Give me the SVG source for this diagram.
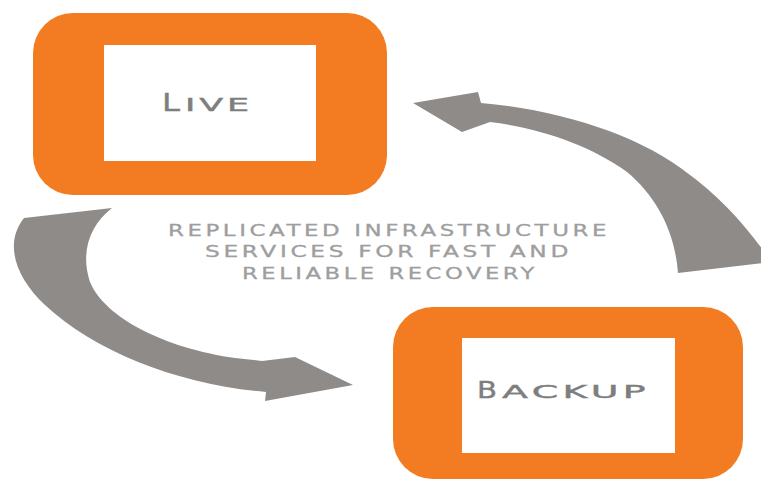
<svg xmlns="http://www.w3.org/2000/svg" width="761" height="481" viewBox="0 0 761 481">
<style>
.frame{fill:#F37B21}
.inner{fill:#FFFFFF}
.arrow{fill:#8F8B89}
.lbl{font-family:"DejaVu Sans",sans-serif;fill:#7E7E7E;stroke:#7E7E7E;stroke-width:0.4}
.sub{font-family:"DejaVu Sans",sans-serif;fill:#9E9E9E;stroke:#9E9E9E;stroke-width:0.3;font-size:16px;letter-spacing:2.5px}
</style>
<rect width="761" height="481" fill="#FFFFFF"/>
<g id="connectors">
<path class="arrow" d="M 24 218 L 112 208 C 90 225, 80 252, 90 282 C 105 318, 165 348, 235 358 L 262 361 L 295 357 L 353 385 L 265 401 L 266 392 C 180 385, 95 352, 45 305 C 15 277, 4 243, 24 218 Z"/>
<path class="arrow" d="M 413 103 L 478 92 L 481 103 C 560 110, 640 135, 690 175 C 730 205, 752 235, 772 262 L 678 273 C 675 232, 657 197, 627 172 C 592 146, 540 128, 490 122 L 462 132 Z"/>
</g>
<g id="live">
<rect class="frame" x="33" y="13" width="354" height="182" rx="40"/>
<rect class="inner" x="104" y="45" width="212" height="116"/>
<text class="lbl" y="111"><tspan x="162" font-size="25" textLength="18" lengthAdjust="spacingAndGlyphs">L</tspan><tspan x="185" font-size="18" letter-spacing="2" textLength="68" lengthAdjust="spacingAndGlyphs">IVE</tspan></text>
</g>
<g id="backup">
<rect class="frame" x="393" y="307" width="350" height="172" rx="40"/>
<rect class="inner" x="462" y="338" width="213" height="115"/>
<text class="lbl" y="398"><tspan x="477" font-size="23" textLength="20" lengthAdjust="spacingAndGlyphs">B</tspan><tspan x="502" font-size="17" letter-spacing="2" textLength="148" lengthAdjust="spacingAndGlyphs">ACKUP</tspan></text>
</g>
<g id="caption">
<text class="sub" x="168" y="236" textLength="442" lengthAdjust="spacingAndGlyphs">REPLICATED INFRASTRUCTURE</text>
<text class="sub" x="205" y="257" textLength="367" lengthAdjust="spacingAndGlyphs">SERVICES FOR FAST AND</text>
<text class="sub" x="242" y="279" textLength="296" lengthAdjust="spacingAndGlyphs">RELIABLE RECOVERY</text>
</g>
</svg>
